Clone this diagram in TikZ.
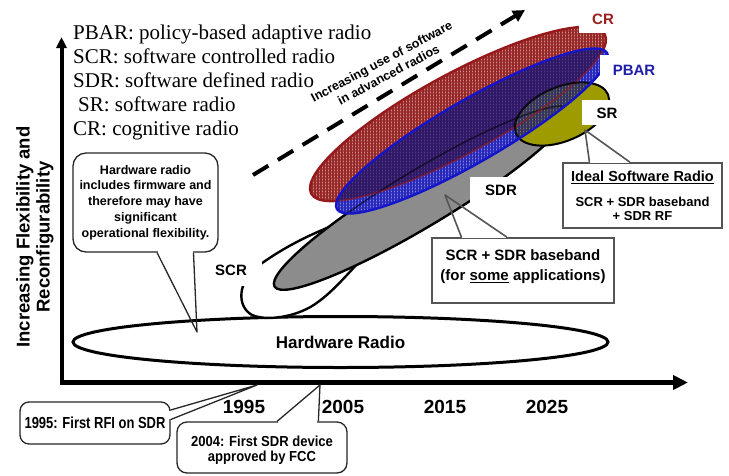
\documentclass[tikz,border=0pt]{standalone}
\usepackage{fontspec}
\setmainfont{Liberation Serif}
\setsansfont{Liberation Sans}
\newfontfamily\narrowsansA[FakeStretch=0.81]{Liberation Sans}
\newfontfamily\narrowsansB[FakeStretch=0.90]{Liberation Sans}
\usetikzlibrary{arrows.meta,patterns.meta,calc,shapes.geometric}

% fills and strokes of the radio regions
\definecolor{crbase}{RGB}{208,140,140}
\definecolor{crhatch}{RGB}{150,40,40}
\definecolor{crdraw}{RGB}{150,25,25}
\definecolor{crtext}{RGB}{155,30,30}
\definecolor{pbbase}{RGB}{130,130,235}
\definecolor{pbhatch}{RGB}{40,40,185}
\definecolor{pbdraw}{RGB}{20,20,200}
\definecolor{pbtext}{RGB}{30,30,170}
\definecolor{mixbase}{RGB}{90,55,140}
\definecolor{mixhatch}{RGB}{45,25,100}
\definecolor{srbase}{RGB}{158,155,0}
\definecolor{srmixbase}{RGB}{125,120,60}
\definecolor{srmixhatch}{RGB}{50,50,105}
\definecolor{sdrgray}{RGB}{140,140,140}
\definecolor{boxgray}{RGB}{85,85,85}

\begin{document}
\begin{tikzpicture}[x=1pt,y=-1pt,
  legendtxt/.style={font=\fontsize{21pt}{24pt}\selectfont, inner sep=0pt, anchor=base west,
                    text height=14pt, text depth=4pt},
  axislbl/.style={font=\sffamily\bfseries\fontsize{18.5pt}{20pt}\selectfont, inner sep=0pt, align=center},
  yearlbl/.style={font=\sffamily\bfseries\fontsize{19pt}{22pt}\selectfont, inner sep=0pt},
  radiolbl/.style={font=\sffamily\bfseries\fontsize{15pt}{18pt}\selectfont, inner sep=0pt},
  trendlbl/.style={font=\sffamily\bfseries\fontsize{12.5pt}{15pt}\selectfont, inner sep=0pt, align=center},
  outline/.style={draw=black, line width=2.4pt},
  hatched/.style 2 args={fill=#1, postaction={pattern={Hatch[angle=0,distance=3pt,line width=1.1pt]}, pattern color=#2}},
  callout/.style={draw=black!85, line width=1.3pt, fill=white, inner sep=0pt},
  calloutptr/.style={draw=black!85, line width=1.3pt, line join=round},
  notebox/.style={draw=boxgray, line width=1.8pt, fill=white, inner sep=0pt},
  noteptr/.style={draw=boxgray, line width=1.6pt, line join=round},
  erase/.style={draw=white, line width=2.6pt, shorten <=0.9pt, shorten >=0.9pt},
]
\useasboundingbox (0,0) rectangle (729,475);

% centres of the radio regions
\coordinate (sdrc) at (422,198);
\coordinate (src) at (562,114);
\coordinate (crc) at (458,114);
\coordinate (pbc) at (472,131);
\tikzset{
  sdrrot/.style={rotate around={31:(sdrc)}},
  srrot/.style={rotate around={23:(src)}},
  crrot/.style={rotate around={28.5:(crc)}},
  pbrot/.style={rotate around={30:(pbc)}},
}

% hardware radio
\node[draw, line width=3pt, ellipse, fill=white, minimum width=535pt, minimum height=51pt,
      inner sep=0pt, font=\sffamily\bfseries\fontsize{17pt}{20pt}\selectfont] (hwradio) at (340.5,342) {Hardware Radio};

% software controlled radio (its right part lies under the SDR region)
\coordinate (scrA) at (342,222);
\draw[outline, fill=white] (scrA) .. controls (305,236) and (280,250) .. (258,266)
   .. controls (238,281) and (236,306) .. (252,315)
   .. controls (268,322) and (300,316) .. (318,302)
   .. controls (332,292) and (346,276) .. (358,263)
   .. controls (378,242) and (368,218) .. (scrA) -- cycle;

% software defined radio
\fill[sdrgray, sdrrot] (sdrc) ellipse [x radius=172pt, y radius=28pt];
\draw[outline, sdrrot] (sdrc) ellipse [x radius=172pt, y radius=28pt];
\fill[white] (470,177) rectangle (530,203);
\node[radiolbl] (sdrlabel) at (501,190) {SDR};

% software radio
\fill[srbase, srrot] (src) ellipse [x radius=50pt, y radius=27pt];
\draw[outline, line width=2pt, srrot] (src) ellipse [x radius=50pt, y radius=27pt];
\fill[white] (582,100) rectangle (630,125);
\node[radiolbl] (srlabel) at (607,113) {SR};

% cognitive radio
\path[hatched={crbase}{crhatch}, crrot] (crc) ellipse [x radius=167pt, y radius=40pt];
\draw[draw=crdraw, line width=2.4pt, crrot] (crc) ellipse [x radius=167pt, y radius=40pt];
\fill[white] (579,-5) rectangle (645,33);
\node[radiolbl, text=crtext] (crlabel) at (603,19) {CR};

% policy-based adaptive radio, see-through over the others
\path[hatched={pbbase}{pbhatch}, pbrot] (pbc) ellipse [x radius=156pt, y radius=31pt];
\begin{scope}
  \clip[pbrot] (pbc) ellipse [x radius=156pt, y radius=31pt];
  \path[hatched={mixbase}{mixhatch}, crrot] (crc) ellipse [x radius=167pt, y radius=40pt];
  \path[hatched={srmixbase}{srmixhatch}, srrot] (src) ellipse [x radius=50pt, y radius=27pt];
  \draw[black, opacity=0.55, line width=1.6pt, sdrrot] (sdrc) ellipse [x radius=172pt, y radius=28pt];
  \draw[crdraw, opacity=0.6, line width=1.8pt, crrot] (crc) ellipse [x radius=167pt, y radius=40pt];
  \draw[black, opacity=0.8, line width=2pt, srrot] (src) ellipse [x radius=50pt, y radius=27pt];
\end{scope}
\draw[draw=pbdraw, line width=2.4pt, pbrot] (pbc) ellipse [x radius=156pt, y radius=31pt];
\fill[white] (600,55) rectangle (670,82);
\node[radiolbl, text=pbtext] (pblabel) at (634,70) {PBAR};

\fill[white] (205,256) rectangle (262,286);
\node[radiolbl] (scrlabel) at (231,270) {SCR};

% legend
\node[legendtxt] (lgPBAR) at (73,39) {PBAR: policy-based adaptive radio};
\node[legendtxt] (lgSCR) at (73,63) {SCR: software controlled radio};
\node[legendtxt] (lgSDR) at (73,87) {SDR: software defined radio};
\node[legendtxt] (lgSR) at (78,111) {SR: software radio};
\node[legendtxt] (lgCR) at (73,135) {CR: cognitive radio};

% axes
\coordinate (origin) at (61.5,382.5);
\coordinate (ytop) at (61.5,37);
\coordinate (xend) at (688,382.5);
\draw[line width=4pt, -{Triangle[length=11pt,width=10pt]}] ([yshift=-2.5pt]origin) -- (ytop);
\draw[line width=5pt, -{Triangle[length=15pt,width=14pt]}] ([xshift=-2pt]origin) -- (xend);
\node[axislbl, rotate=90] (ylabel) at (35,237) {Increasing Flexibility and\\Reconfigurability};

\node[yearlbl] (y1995) at (244,407) {1995};
\node[yearlbl] (y2005) at (343,407) {2005};
\node[yearlbl] (y2015) at (445,407) {2015};
\node[yearlbl] (y2025) at (547,407) {2025};

% trend arrow
\coordinate (trendA) at (253,175);
\coordinate (trendB) at (525,10);
\draw[line width=4pt, dash pattern=on 18pt off 11pt, -{Triangle[length=12pt,width=12pt]}] (trendA) -- (trendB);
\node[trendlbl, rotate=28] (trendtxt) at (385,68) {Increasing use of software\\in advanced radios};

% callout: hardware radio
\node[callout, rounded corners=13pt, minimum width=145pt, minimum height=99pt, align=center,
      font=\sffamily\bfseries\fontsize{12.5pt}{15.75pt}\selectfont] (hwnote) at (145.5,202.5)
  {Hardware radio\\includes firmware and\\therefore may have\\significant\\operational flexibility.};
\coordinate (hwtip) at (197,332);
\coordinate (hwp1) at ($(hwnote.south west)!0.579!(hwnote.south east)$);
\coordinate (hwp2) at ($(hwnote.south west)!0.828!(hwnote.south east)$);
\draw[erase] (hwp1) -- (hwp2);
\draw[calloutptr] (hwp1) -- (hwtip) -- (hwp2);

% callout: 1995
\node[callout, rounded corners=9pt, minimum width=150pt, minimum height=42pt,
      font=\narrowsansA\bfseries\fontsize{16pt}{18pt}\selectfont] (rfinote) at (95,423) {1995: First RFI on SDR};
\coordinate (rfitip) at (257,385);
\coordinate (rfip1) at ($(rfinote.north east)!0.2!(rfinote.south east)$);
\coordinate (rfip2) at ($(rfinote.north east)!0.42!(rfinote.south east)$);
\draw[erase] (rfip1) -- (rfip2);
\draw[calloutptr] (rfip1) -- (rfitip) -- (rfip2);

% callout: 2004
\node[callout, rounded corners=10pt, minimum width=170pt, minimum height=51pt] (fccnote) at (262,447.5) {};
\node[align=center, inner sep=0pt, font=\narrowsansB\bfseries\fontsize{14.5pt}{15pt}\selectfont] (fcctext) at (262,450.5)
  {2004: First SDR device\\approved by FCC};
\coordinate (fcctip) at (320,385);
\coordinate (fccp1) at ($(fccnote.north west)!0.588!(fccnote.north east)$);
\coordinate (fccp2) at ($(fccnote.north west)!0.829!(fccnote.north east)$);
\draw[erase] (fccp1) -- (fccp2);
\draw[calloutptr] (fccp1) -- (fcctip) -- (fccp2);

% note: SCR + SDR baseband
\node[notebox, minimum width=182pt, minimum height=65pt] (basenote) at (523,270.5) {};
\node[align=center, inner sep=0pt, font=\sffamily\bfseries\fontsize{15pt}{20pt}\selectfont] (basetext) at (523,267)
  {SCR + SDR baseband\\(for \underline{some} applications)};
\coordinate (basetip) at (445,195);
\coordinate (basep1) at ($(basenote.north west)!0.165!(basenote.north east)$);
\coordinate (basep2) at ($(basenote.north west)!0.412!(basenote.north east)$);
\draw[erase] (basep1) -- (basep2);
\draw[noteptr] (basep1) -- (basetip) -- (basep2);

% note: ideal software radio
\node[notebox, minimum width=159pt, minimum height=65pt] (idealnote) at (642.5,195.5) {};
\node[inner sep=0pt, font=\sffamily\bfseries\fontsize{14.5pt}{17pt}\selectfont] (idealtitle) at (642.5,177)
  {\underline{Ideal Software Radio}};
\node[align=center, inner sep=0pt, font=\sffamily\bfseries\fontsize{13pt}{14.5pt}\selectfont] (idealtext) at (642.5,209)
  {SCR + SDR baseband\\+ SDR RF};
\coordinate (idealtip) at (585,130);
\coordinate (idealp1) at ($(idealnote.north west)!0.17!(idealnote.north east)$);
\coordinate (idealp2) at ($(idealnote.north west)!0.421!(idealnote.north east)$);
\draw[erase] (idealp1) -- (idealp2);
\draw[noteptr] (idealp1) -- (idealtip) -- (idealp2);

\end{tikzpicture}
\end{document}
